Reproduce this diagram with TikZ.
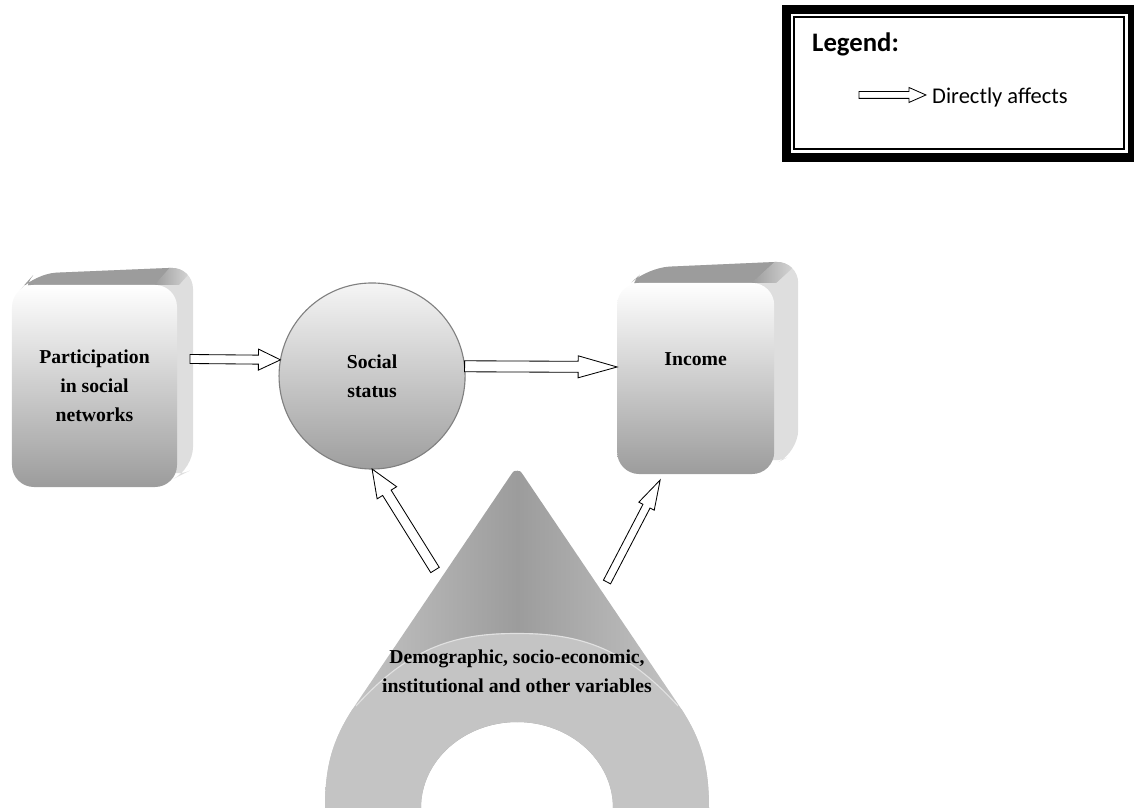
\documentclass[tikz,border=0pt]{standalone}
\usepackage{fontspec}
\setmainfont{Liberation Serif}
\newfontfamily\calibrifont{Carlito}
\usetikzlibrary{calc,positioning,backgrounds}

\definecolor{facelow}{HTML}{9C9C9C}
\definecolor{topface}{HTML}{9C9C9C}
\definecolor{sideface}{HTML}{DEDEDE}
\definecolor{conelight}{HTML}{CACACA}
\definecolor{conedark}{HTML}{9C9C9C}
\definecolor{ringgray}{HTML}{C4C4C4}

\newcommand{\pxu}{0.025cm}
% block arrow: tail, tip, half shaft, half head, head length (px)
\newcommand{\fatarrow}[5]{%
  \coordinate (fa-h) at ($(#2)!#5*\pxu!(#1)$);
  \draw[fat] ($(#1)!#3*\pxu!90:(#2)$) -- ($(fa-h)!#3*\pxu!90:(#2)$)
    -- ($(fa-h)!#4*\pxu!90:(#2)$) -- (#2)
    -- ($(fa-h)!#4*\pxu!-90:(#2)$) -- ($(fa-h)!#3*\pxu!-90:(#2)$)
    -- ($(#1)!#3*\pxu!-90:(#2)$) -- cycle;}
% depth of a 3d block behind its front node: node, dx, dy
\newcommand{\blockback}[3]{%
  \begin{scope}
    \clip[rounded corners=0.55cm]
      ($(#1.north west)+(6.6,-6.6)$) -- ($(#1.north west)+(#2,#3)+(6.6,-6.6)$)
      -- ($(#1.north east)+(#2,#3)$) -- ($(#1.south east)+(#2,#3)$)
      -- ($(#1.south east)+(-6.6,6.6)$) -- cycle;
    \fill[sideface] ($(#1.south west)+(-5,-5)$) rectangle ($(#1.north east)+(#2+5,#3+5)$);
    \fill[topface] ($(#1.north west)+(-5,0)$) -- ($(#1.north west)+(#2-5,#3)$)
      -- ($(#1.north east)+(#2-22,#3)$) -- ($(#1.north east)+(-22,0)$) -- cycle;
    \shade[left color=topface,right color=sideface]
      ($(#1.north east)+(-22.5,0)$) -- ($(#1.north east)+(#2-22.5,#3)$)
      -- ($(#1.north east)+(#2+2,#3)$) -- ($(#1.north east)+(2,0)$) -- cycle;
  \end{scope}}

\begin{document}
\begin{tikzpicture}[x=0.025cm,y=0.025cm,
  front/.style={rounded corners=0.55cm,top color=white,bottom color=facelow,
    inner sep=0pt,outer sep=0pt,align=center,font=\bfseries\fontsize{14}{20.5}\selectfont},
  ball/.style={circle,draw=black!50,line width=0.8pt,top color=white!96!black,bottom color=black!38,
    minimum size=4.65cm,inner sep=0pt,outer sep=0pt,align=center,font=\bfseries\fontsize{14}{20.5}\selectfont},
  legendbox/.style={draw,line width=0.225cm,minimum width=8.625cm,minimum height=3.6875cm,inner sep=0pt,outer sep=0pt},
  fat/.style={draw=black,fill=white,line width=0.6pt,line join=miter}
]
  \useasboundingbox (0,0) rectangle (1134,810);

  % legend
  \node[legendbox] (legend) at (959.5,726.25) {};
  \draw[line width=1pt] ($(legend.north west)+(7,-7)$) rectangle ($(legend.south east)+(-8,8.5)$);
  \node[anchor=base west,inner sep=0pt,font=\calibrifont\bfseries\fontsize{19}{23}\selectfont]
    (lgtitle) at ($(legend.north west)+(25,-42)$) {Legend:};
  \node[anchor=base west,inner sep=0pt,font=\calibrifont\fontsize{16}{19}\selectfont]
    (lgtext) at ($(legend.north west)+(145,-94)$) {Directly affects};
  \coordinate (lgtail) at ($(legend.north west)+(72,-85)$);
  \coordinate (lgtip) at ($(legend.north west)+(139,-85)$);
  \fatarrow{lgtail}{lgtip}{3.4}{7.5}{17}

  % blocks
  \node[front,minimum width=4.125cm,minimum height=5.05cm] (part) at (94.5,424)
    {Participation\\in social\\networks};
  \node[ball,right=2.55cm of part,yshift=0.25cm] (social) {Social\\status};
  \node[front,minimum width=3.925cm,minimum height=4.775cm,text depth=0.95cm,
    right=3.8cm of social,yshift=-0.0625cm] (income) {Income};
  \begin{scope}[on background layer]
    \blockback{part}{16}{18}
    \blockback{income}{24}{22}
  \end{scope}

  % cone: shaded point (two halves), flat band with the arch
  \coordinate (apex) at (517,344);
  \shade[left color=conelight,right color=conedark]
    (325,2) .. controls (325,45) and (333,70) .. (352,100)
    -- (510.5,334.5) .. controls (513.75,339.25) .. (517.5,339.25) -- (517.5,88)
    arc[start angle=90,end angle=180,x radius=96.5,y radius=86] -- cycle;
  \shade[left color=conedark,right color=conelight]
    (517,339.25) .. controls (520.25,339.25) .. (523.5,334.5)
    -- (682,100) .. controls (701,70) and (709,45) .. (709,2) -- (613,2)
    arc[start angle=0,end angle=90,x radius=96,y radius=86] -- cycle;
  \fill[ringgray]
    (325,2) .. controls (325,45) and (333,70) .. (352,100)
    .. controls (410,165) and (460,177) .. (517,177)
    .. controls (574,177) and (624,165) .. (682,100)
    .. controls (701,70) and (709,45) .. (709,2) -- (613,2)
    arc[start angle=0,end angle=180,x radius=96,y radius=86] -- cycle;
  \draw[white!50!ringgray,line width=0.8pt] (356,104) .. controls (412,166) and (460,176.5) .. (517,176.5)
      .. controls (574,176.5) and (622,166) .. (678,104);
  \node[font=\bfseries\fontsize{14}{20.5}\selectfont,align=center] (demo) at (517,139)
    {Demographic, socio-economic,\\institutional and other variables};

  % arrows
  \coordinate (a1) at ($(part.east)+(13,27)$);
  \coordinate (a2) at ($(income.west)+(0,11.5)$);
  \coordinate (a3) at ($(apex)+(-82,-104)$);
  \coordinate (a4) at ($(apex)+(90,-116)$);
  \coordinate (a4t) at ($(income.south)+(-35.5,-6)$);
  \fatarrow{a1}{social.170}{4.5}{10.5}{22}
  \fatarrow{social.6}{a2}{5.5}{11}{39}
  \fatarrow{a3}{social.south}{5}{11.5}{28}
  \fatarrow{a4}{a4t}{4}{8.7}{29.5}
\end{tikzpicture}
\end{document}
